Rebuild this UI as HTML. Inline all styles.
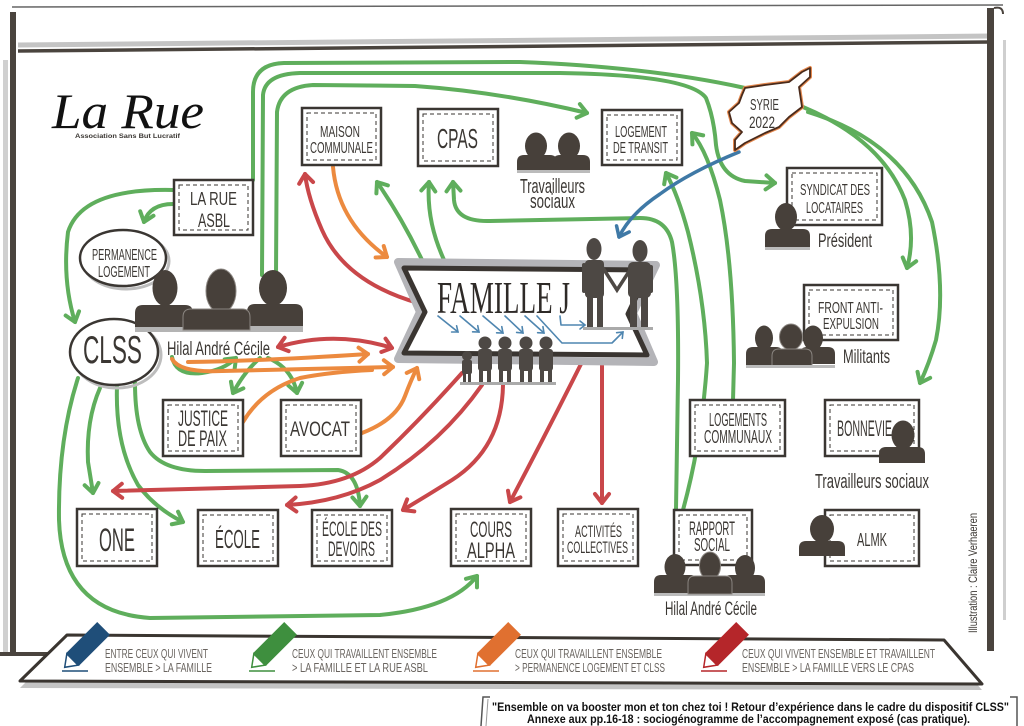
<!DOCTYPE html>
<html><head><meta charset="utf-8"><style>
html,body{margin:0;padding:0;background:#fff;}
svg{display:block;}
.t{font-family:"Liberation Sans",sans-serif;fill:#3b3733;}
.g{fill:none;stroke:#5fae5c;stroke-width:4;stroke-linecap:round;stroke-linejoin:round;}
.r{fill:none;stroke:#c9474a;stroke-width:4;stroke-linecap:round;stroke-linejoin:round;}
.o{fill:none;stroke:#ec8a3f;stroke-width:4;stroke-linecap:round;stroke-linejoin:round;}
.b{fill:none;stroke:#3f79a6;stroke-width:3.5;stroke-linecap:round;stroke-linejoin:round;}
.bs{fill:none;stroke:#4f86b0;stroke-width:1.6;stroke-linecap:round;stroke-linejoin:round;}
.bx{fill:#fff;stroke:#3a3632;stroke-width:2.5;}
.bd{fill:none;stroke:#3a3632;stroke-width:1;stroke-dasharray:4 3;}
.p{fill:#47403a;}
.k{fill:#4d4844;}
.lg{font-family:"Liberation Sans",sans-serif;fill:#6a6560;font-size:13px;}
</style></head><body>
<svg width="1024" height="726" viewBox="0 0 1024 726" xmlns="http://www.w3.org/2000/svg">
<defs>
<marker id="mg" viewBox="-12 -12 24 24" markerWidth="24" markerHeight="24" refX="0" refY="0" orient="auto-start-reverse" markerUnits="userSpaceOnUse"><path d="M-9,-7 L0,0 L-9,7" fill="none" stroke="#5fae5c" stroke-width="4" stroke-linecap="round" stroke-linejoin="round"/></marker>
<marker id="mr" viewBox="-12 -12 24 24" markerWidth="24" markerHeight="24" refX="0" refY="0" orient="auto-start-reverse" markerUnits="userSpaceOnUse"><path d="M-9,-7 L0,0 L-9,7" fill="none" stroke="#c9474a" stroke-width="4" stroke-linecap="round" stroke-linejoin="round"/></marker>
<marker id="mo" viewBox="-12 -12 24 24" markerWidth="24" markerHeight="24" refX="0" refY="0" orient="auto-start-reverse" markerUnits="userSpaceOnUse"><path d="M-9,-7 L0,0 L-9,7" fill="none" stroke="#ec8a3f" stroke-width="4" stroke-linecap="round" stroke-linejoin="round"/></marker>
<marker id="mb" viewBox="-12 -12 24 24" markerWidth="24" markerHeight="24" refX="0" refY="0" orient="auto-start-reverse" markerUnits="userSpaceOnUse"><path d="M-9,-7 L0,0 L-9,7" fill="none" stroke="#3f79a6" stroke-width="3.5" stroke-linecap="round" stroke-linejoin="round"/></marker>
<marker id="mbs" viewBox="-8 -8 16 16" markerWidth="16" markerHeight="16" refX="0" refY="0" orient="auto" markerUnits="userSpaceOnUse"><path d="M-5,-4 L0,0 L-5,4" fill="none" stroke="#4f86b0" stroke-width="1.6" stroke-linecap="round"/></marker>
</defs>

<!-- board frame -->
<line x1="12" y1="7" x2="1003" y2="5" stroke="#666" stroke-width="1.5"/>
<path d="M18 45 L 992 36" stroke="#c4c4c4" stroke-width="5" fill="none"/>
<path d="M18 51 L 990 42" stroke="#4a443e" stroke-width="3.5" fill="none"/>
<rect x="3" y="60" width="5" height="596" fill="#d0d0d0"/>
<rect x="10" y="12" width="6" height="644" fill="#4a443e"/>
<rect x="0" y="652" width="60" height="4" fill="#4a443e"/>
<rect x="987" y="8" width="7" height="643" fill="#4a443e"/>
<rect x="1003" y="40" width="3" height="580" fill="#cfcfcf"/>
<path d="M994 8 Q1003 6 1003 14" stroke="#4a443e" stroke-width="2" fill="none"/>

<!-- logo -->
<text x="52" y="128" font-family="Liberation Serif,serif" font-style="italic" font-size="50" fill="#111" textLength="152" lengthAdjust="spacingAndGlyphs">La Rue</text>
<text x="75" y="138" class="t" font-size="6.5" font-weight="bold" fill="#222" textLength="105" lengthAdjust="spacingAndGlyphs">Association Sans But Lucratif</text>

<!-- green connectors -->
<path class="g" d="M253 180 L253 92 Q253 64 284 63 L520 62 Q650 67 745 88"/>
<path class="g" d="M262 275 L263 95 Q265 74 300 73 L560 73 Q690 75 706 98 Q714 118 716 145 Q720 176 745 181 L775 183" marker-end="url(#mg)"/>
<path class="g" d="M276 275 L277 112 Q280 87 313 85 L415 86 Q500 92 587 113" marker-end="url(#mg)"/>
<path class="g" d="M173 190 Q82 188 68 232 Q62 280 75 322" marker-end="url(#mg)"/>
<path class="g" d="M173 204 Q150 204 144 222" marker-end="url(#mg)"/>
<path class="g" d="M78 378 Q58 440 59 520 Q62 612 150 618 L380 615 Q452 608 477 576" marker-end="url(#mg)"/>
<path class="g" d="M100 388 Q86 420 88 462 L93 493" marker-end="url(#mg)"/>
<path class="g" d="M117 386 Q115 445 138 485 Q155 508 183 522" marker-end="url(#mg)"/>
<path class="g" d="M135 383 Q135 430 150 452 Q165 471 205 471 L338 470 Q358 473 360 506" marker-end="url(#mg)"/>
<path class="g" d="M172 357 Q176 376 202 373 Q224 370 236 358" marker-end="url(#mg)"/>
<path class="g" d="M260 358 Q244 372 233 393" marker-end="url(#mg)"/>
<path class="g" d="M268 358 Q292 368 297 393" marker-end="url(#mg)"/>
<path class="g" d="M423 262 Q402 218 377 182" marker-end="url(#mg)"/>
<path class="g" d="M445 262 Q426 222 429 182" marker-end="url(#mg)"/>
<path class="g" d="M676 510 L678 380 Q679 280 672 242 Q666 218 640 218 L490 221 Q456 222 454 200 L453 182" marker-end="url(#mg)"/>
<path class="g" d="M683 510 Q702 440 707 363 Q705 300 688 232 Q678 195 666 173" marker-end="url(#mg)"/>
<path class="g" d="M733 400 L734 363 Q733 262 720 200 Q708 152 692 133" marker-end="url(#mg)"/>
<path class="g" d="M803 107 Q882 140 905 200 Q916 236 907 268" marker-end="url(#mg)"/>
<path class="g" d="M808 112 Q905 142 932 222 Q946 290 936 340 Q929 364 920 383" marker-end="url(#mg)"/>

<!-- red connectors -->
<path class="r" d="M418 303 Q345 282 322 230 Q308 198 305 174" marker-end="url(#mr)"/>
<path class="r" d="M278 347 Q335 330 392 348" marker-start="url(#mr)" marker-end="url(#mr)"/>
<path class="r" d="M462 373 Q420 420 380 458 Q350 484 300 486 L113 491" marker-end="url(#mr)"/>
<path class="r" d="M482 385 Q442 442 380 480 Q340 502 287 505" marker-end="url(#mr)"/>
<path class="r" d="M503 385 Q502 448 452 480 Q428 495 403 510" marker-end="url(#mr)"/>
<path class="r" d="M582 362 Q548 430 510 502" marker-end="url(#mr)"/>
<path class="r" d="M602 362 L602 503" marker-end="url(#mr)"/>

<!-- orange connectors -->
<path class="o" d="M333 167 Q338 222 387 257" marker-end="url(#mo)"/>
<path class="o" d="M188 362 Q262 361 368 354" marker-end="url(#mo)"/>
<path class="o" d="M172 359 Q180 373 222 371 L393 367" marker-end="url(#mo)"/>
<path class="o" d="M243 422 Q262 390 300 378 Q330 372 372 370"/>
<path class="o" d="M362 433 Q396 420 405 396 Q411 380 417 368" marker-end="url(#mo)"/>

<!-- blue connector -->
<path class="b" d="M739 152 Q690 172 660 194 Q630 214 619 237" marker-end="url(#mb)"/>

<!-- boxes -->
<g>
<rect class="bx" x="302" y="108" width="79" height="57"/><rect class="bd" x="307" y="113" width="69" height="47"/>
<rect class="bx" x="418" y="109" width="80" height="57"/><rect class="bd" x="423" y="114" width="70" height="47"/>
<rect class="bx" x="602" y="110" width="80" height="55"/><rect class="bd" x="607" y="115" width="70" height="45"/>
<rect class="bx" x="174" y="180" width="79" height="55"/><rect class="bd" x="179" y="185" width="69" height="45"/>
<rect class="bx" x="787" y="168" width="95" height="57"/><rect class="bd" x="792" y="173" width="85" height="47"/>
<rect class="bx" x="804" y="285" width="94" height="55"/><rect class="bd" x="809" y="290" width="84" height="45"/>
<rect class="bx" x="163" y="400" width="80" height="56"/><rect class="bd" x="168" y="405" width="70" height="46"/>
<rect class="bx" x="281" y="400" width="80" height="56"/><rect class="bd" x="286" y="405" width="70" height="46"/>
<rect class="bx" x="690" y="400" width="95" height="56"/><rect class="bd" x="695" y="405" width="85" height="46"/>
<rect class="bx" x="825" y="400" width="94" height="56"/><rect class="bd" x="830" y="405" width="84" height="46"/>
<rect class="bx" x="77" y="509" width="80" height="57"/><rect class="bd" x="82" y="514" width="70" height="47"/>
<rect class="bx" x="198" y="510" width="80" height="56"/><rect class="bd" x="203" y="515" width="70" height="46"/>
<rect class="bx" x="312" y="510" width="80" height="56"/><rect class="bd" x="317" y="515" width="70" height="46"/>
<rect class="bx" x="451" y="509" width="80" height="57"/><rect class="bd" x="456" y="514" width="70" height="47"/>
<rect class="bx" x="558" y="509" width="80" height="57"/><rect class="bd" x="563" y="514" width="70" height="47"/>
<rect class="bx" x="674" y="510" width="78" height="55"/><rect class="bd" x="679" y="515" width="68" height="45"/>
<rect class="bx" x="825" y="510" width="94" height="56"/><rect class="bd" x="830" y="515" width="84" height="46"/>
</g>

<!-- ellipses -->
<ellipse cx="126" cy="261" rx="43" ry="28" fill="none" stroke="#bdbdbd" stroke-width="3"/>
<ellipse cx="123" cy="258" rx="43" ry="28" fill="#fff" stroke="#3a3632" stroke-width="2.5"/>
<ellipse cx="117" cy="355" rx="44" ry="33" fill="none" stroke="#bdbdbd" stroke-width="3"/>
<ellipse cx="114" cy="352" rx="44" ry="33" fill="#fff" stroke="#3a3632" stroke-width="2.5"/>

<!-- Syrie -->
<polygon points="745,88 765,85 789,82 802,72 810,68 810,77 799,87 802,107 789,117 779,127 765,133 745,143 735,150 735,140 742,132 732,123 729,112 739,103 742,95" fill="#fff" stroke="#e4884e" stroke-width="4" stroke-linejoin="round"/>
<polygon points="745,88 765,85 789,82 802,72 810,68 810,77 799,87 802,107 789,117 779,127 765,133 745,143 735,150 735,140 742,132 732,123 729,112 739,103 742,95" fill="#fff" stroke="#4a2a1a" stroke-width="1.8" stroke-linejoin="round"/>

<!-- persons: left group -->
<rect x="135" y="325" width="168" height="7" fill="#b4b4b4"/>
<g class="p">
<ellipse cx="165" cy="288" rx="12.5" ry="18"/><path d="M135 327 L135 313 Q135 305 143 305 L185 305 Q193 305 193 313 L193 327 Z"/>
<ellipse cx="273" cy="288" rx="14" ry="18"/><path d="M247 326 L247 312 Q247 304 255 304 L295 304 Q303 304 303 312 L303 326 Z"/>
<ellipse cx="221" cy="291" rx="15" ry="22" stroke="#8a8580" stroke-width="1"/><path d="M183 330 L183 317 Q183 309 191 309 L242 309 Q250 309 250 317 L250 330 Z" stroke="#8a8580" stroke-width="1"/>
</g>
<!-- travailleurs top -->
<g class="p">
<ellipse cx="536" cy="146" rx="11" ry="13.5"/><path d="M517 170 L517 162 Q517 155 524 155 L550 155 Q557 155 557 162 L557 170 Z"/>
<ellipse cx="569" cy="146" rx="11" ry="13.5"/><path d="M553 170 L553 162 Q553 155 560 155 L583 155 Q590 155 590 162 L590 170 Z"/>
</g>
<rect x="517" y="170" width="73" height="3" fill="#bbb"/>
<!-- president -->
<g class="p"><ellipse cx="786" cy="217" rx="11" ry="14"/><path d="M765 247 L765 236 Q765 229 772 229 L803 229 Q810 229 810 236 L810 247 Z"/></g>
<rect x="765" y="247" width="45" height="3" fill="#bbb"/>
<!-- militants -->
<g class="p">
<ellipse cx="764" cy="338" rx="9" ry="12.5"/><path d="M746 365 L746 354 Q746 347 753 347 L776 347 Q783 347 783 354 L783 365 Z"/>
<ellipse cx="813" cy="338" rx="10" ry="12.5"/><path d="M800 364 L800 354 Q800 347 807 347 L828 347 Q835 347 835 354 L835 364 Z"/>
<ellipse cx="791" cy="337" rx="11.5" ry="13" stroke="#8a8580" stroke-width="1"/><path d="M772 366 L772 356 Q772 349 779 349 L805 349 Q812 349 812 356 L812 366 Z" stroke="#8a8580" stroke-width="1"/>
</g>
<rect x="746" y="365" width="89" height="3" fill="#bbb"/>
<!-- bonnevie person -->
<g class="p"><ellipse cx="903" cy="435" rx="11.5" ry="14.5"/><path d="M879 463 L879 454 Q879 447 886 447 L918 447 Q925 447 925 454 L925 463 Z"/></g>
<!-- almk person -->
<g class="p"><ellipse cx="822" cy="529" rx="12" ry="14"/><path d="M799 556 L799 548 Q799 541 806 541 L838 541 Q845 541 845 548 L845 556 Z"/></g>
<!-- rapport persons -->
<rect x="654" y="592" width="111" height="4" fill="#bbb"/>
<g class="p">
<ellipse cx="675" cy="567" rx="10.5" ry="13"/><path d="M654 593 L654 582 Q654 575 661 575 L690 575 Q697 575 697 582 L697 593 Z"/>
<ellipse cx="745" cy="568" rx="10" ry="13"/><path d="M724 593 L724 582 Q724 575 731 575 L758 575 Q765 575 765 582 L765 593 Z"/>
<ellipse cx="710" cy="566" rx="10.5" ry="14" stroke="#8a8580" stroke-width="1"/><path d="M688 594 L688 583 Q688 576 695 576 L725 576 Q732 576 732 583 L732 594 Z" stroke="#8a8580" stroke-width="1"/>
</g>

<!-- FAMILLE J banner -->
<polygon points="398,262 656,265 633,313 654,362 398,359 420,312" fill="#fff" stroke="#b4b4b8" stroke-width="8" stroke-linejoin="round"/>
<polygon points="404,268 649,270 628,314 647,355 404,353 425,312" fill="#fff" stroke="#3a3531" stroke-width="5" stroke-linejoin="round"/>
<text x="437" y="313" font-family="Liberation Serif,serif" font-size="46" fill="#2e2a27" textLength="133" lengthAdjust="spacingAndGlyphs">FAMILLE J</text>
<!-- small blue arrows -->
<path class="bs" d="M438 316 L458 332" marker-end="url(#mbs)"/>
<path class="bs" d="M460 316 L479 332" marker-end="url(#mbs)"/>
<path class="bs" d="M483 316 L503 333" marker-end="url(#mbs)"/>
<path class="bs" d="M505 316 L523 333" marker-end="url(#mbs)"/>
<path class="bs" d="M525 316 L544 333" marker-end="url(#mbs)"/>
<path class="bs" d="M560 316 L561 325 L585 325" marker-end="url(#mbs)"/>
<path class="bs" d="M537 316 L562 343 L612 343 L623 332" marker-end="url(#mbs)"/>
<!-- adults -->
<g class="k">
<ellipse cx="594" cy="249" rx="7.5" ry="11"/>
<rect x="585" y="260" width="19" height="38" rx="4"/>
<rect x="587" y="296" width="6" height="32"/><rect x="597" y="296" width="6" height="32"/>
<rect x="582" y="263" width="4" height="30" rx="2"/>
<ellipse cx="640" cy="251" rx="7.5" ry="11"/>
<rect x="628" y="262" width="23" height="36" rx="5"/>
<rect x="630" y="296" width="7" height="31"/><rect x="641" y="296" width="7" height="31"/>
<rect x="649" y="265" width="4" height="28" rx="2"/>
</g>
<path d="M603 268 L617 290 L630 270" stroke="#4d4844" stroke-width="3.5" fill="none" stroke-linecap="round"/>
<rect x="583" y="327" width="70" height="3" fill="#aaa"/>
<!-- kids -->
<g class="k">
<circle cx="467" cy="356" r="5"/><rect x="462" y="360" width="10" height="14" rx="2"/><rect x="463" y="372" width="3" height="11"/><rect x="468" y="372" width="3" height="11"/>
<circle cx="485" cy="343" r="6.5"/><rect x="478" y="349" width="14" height="22" rx="3"/><rect x="479" y="369" width="4" height="14"/><rect x="487" y="369" width="4" height="14"/>
<circle cx="505" cy="343" r="6.5"/><rect x="498" y="349" width="14" height="22" rx="3"/><rect x="499" y="369" width="4" height="14"/><rect x="507" y="369" width="4" height="14"/>
<circle cx="526" cy="343" r="6.5"/><rect x="519" y="349" width="14" height="22" rx="3"/><rect x="520" y="369" width="4" height="14"/><rect x="528" y="369" width="4" height="14"/>
<circle cx="546" cy="343" r="6.5"/><rect x="539" y="349" width="14" height="22" rx="3"/><rect x="540" y="369" width="4" height="14"/><rect x="548" y="369" width="4" height="14"/>
</g>
<rect x="460" y="382" width="96" height="3" fill="#aaa"/>

<!-- texts -->
<g class="t">
<text x="320" y="137" font-size="16" textLength="40" lengthAdjust="spacingAndGlyphs">MAISON</text>
<text x="310" y="153" font-size="16" textLength="63" lengthAdjust="spacingAndGlyphs">COMMUNALE</text>
<text x="437" y="148" font-size="28" textLength="41" lengthAdjust="spacingAndGlyphs">CPAS</text>
<text x="615" y="137" font-size="16" textLength="52" lengthAdjust="spacingAndGlyphs">LOGEMENT</text>
<text x="613" y="153" font-size="16" textLength="55" lengthAdjust="spacingAndGlyphs">DE TRANSIT</text>
<text x="750" y="110" font-size="16" textLength="29" lengthAdjust="spacingAndGlyphs">SYRIE</text>
<text x="749" y="128" font-size="17" textLength="26" lengthAdjust="spacingAndGlyphs">2022</text>
<text x="190" y="205" font-size="18" textLength="47" lengthAdjust="spacingAndGlyphs">LA RUE</text>
<text x="198" y="227" font-size="19" textLength="32" lengthAdjust="spacingAndGlyphs">ASBL</text>
<text x="92" y="260" font-size="16" textLength="65" lengthAdjust="spacingAndGlyphs">PERMANENCE</text>
<text x="98" y="277" font-size="16" textLength="52" lengthAdjust="spacingAndGlyphs">LOGEMENT</text>
<text x="83" y="363" font-size="39" textLength="59" lengthAdjust="spacingAndGlyphs">CLSS</text>
<text x="167" y="355" font-size="19" textLength="103" lengthAdjust="spacingAndGlyphs">Hilal André Cécile</text>
<text x="800" y="195" font-size="16" textLength="70" lengthAdjust="spacingAndGlyphs">SYNDICAT DES</text>
<text x="806" y="213" font-size="16" textLength="57" lengthAdjust="spacingAndGlyphs">LOCATAIRES</text>
<text x="818" y="247" font-size="19" textLength="54" lengthAdjust="spacingAndGlyphs">Président</text>
<text x="818" y="313" font-size="15.5" textLength="65" lengthAdjust="spacingAndGlyphs">FRONT ANTI-</text>
<text x="823" y="329" font-size="15.5" textLength="56" lengthAdjust="spacingAndGlyphs">EXPULSION</text>
<text x="843" y="363" font-size="19" textLength="47" lengthAdjust="spacingAndGlyphs">Militants</text>
<text x="520" y="193" font-size="20" textLength="65" lengthAdjust="spacingAndGlyphs">Travailleurs</text>
<text x="530" y="208" font-size="20" textLength="45" lengthAdjust="spacingAndGlyphs">sociaux</text>
<text x="178" y="426" font-size="22" textLength="50" lengthAdjust="spacingAndGlyphs">JUSTICE</text>
<text x="178" y="446" font-size="22" textLength="49" lengthAdjust="spacingAndGlyphs">DE PAIX</text>
<text x="290" y="436" font-size="21" textLength="60" lengthAdjust="spacingAndGlyphs">AVOCAT</text>
<text x="709" y="426" font-size="18" textLength="58" lengthAdjust="spacingAndGlyphs">LOGEMENTS</text>
<text x="704" y="443" font-size="18" textLength="68" lengthAdjust="spacingAndGlyphs">COMMUNAUX</text>
<text x="837" y="436" font-size="22" textLength="55" lengthAdjust="spacingAndGlyphs">BONNEVIE</text>
<text x="815" y="488" font-size="20" textLength="114" lengthAdjust="spacingAndGlyphs">Travailleurs sociaux</text>
<text x="99" y="551" font-size="32" textLength="36" lengthAdjust="spacingAndGlyphs">ONE</text>
<text x="215" y="548" font-size="26" textLength="45" lengthAdjust="spacingAndGlyphs">ÉCOLE</text>
<text x="322" y="536" font-size="21" textLength="60" lengthAdjust="spacingAndGlyphs">ÉCOLE DES</text>
<text x="328" y="556" font-size="21" textLength="47" lengthAdjust="spacingAndGlyphs">DEVOIRS</text>
<text x="470" y="537" font-size="22" textLength="42" lengthAdjust="spacingAndGlyphs">COURS</text>
<text x="467" y="558" font-size="22" textLength="48" lengthAdjust="spacingAndGlyphs">ALPHA</text>
<text x="575" y="537" font-size="16.5" textLength="47" lengthAdjust="spacingAndGlyphs">ACTIVITÉS</text>
<text x="567" y="553" font-size="16.5" textLength="61" lengthAdjust="spacingAndGlyphs">COLLECTIVES</text>
<text x="689" y="535" font-size="19" textLength="46" lengthAdjust="spacingAndGlyphs">RAPPORT</text>
<text x="694" y="551" font-size="18" textLength="36" lengthAdjust="spacingAndGlyphs">SOCIAL</text>
<text x="857" y="546" font-size="18" textLength="30" lengthAdjust="spacingAndGlyphs">ALMK</text>
<text x="665" y="615" font-size="19" textLength="92" lengthAdjust="spacingAndGlyphs">Hilal André Cécile</text>
<text transform="translate(977,633) rotate(-90)" font-size="12" textLength="120" lengthAdjust="spacingAndGlyphs">Illustration : Claire Verhaeren</text>
</g>

<!-- legend -->
<polygon points="67,641 944,646 982,690 20,688" fill="#c4c4c4"/>
<polygon points="67,635 944,640 982,684 20,681" fill="#fff" stroke="#3a3530" stroke-width="3" stroke-linejoin="round"/>
<!-- pencils -->
<g transform="translate(64,668) rotate(-45)"><rect x="12" y="-9" width="44" height="18" fill="#1f4e79"/><polygon points="1,0 12,-8 12,8" fill="#fff" stroke="#1f4e79" stroke-width="1.5"/></g>
<line x1="62" y1="671" x2="88" y2="671" stroke="#1f4e79" stroke-width="1.5"/>
<g transform="translate(251,668) rotate(-45)"><rect x="12" y="-9" width="44" height="18" fill="#3e8f3e"/><polygon points="1,0 12,-8 12,8" fill="#fff" stroke="#3e8f3e" stroke-width="1.5"/></g>
<line x1="249" y1="671" x2="275" y2="671" stroke="#3e8f3e" stroke-width="1.5"/>
<g transform="translate(475,668) rotate(-45)"><rect x="12" y="-9" width="44" height="18" fill="#e07030"/><polygon points="1,0 12,-8 12,8" fill="#fff" stroke="#e07030" stroke-width="1.5"/></g>
<line x1="473" y1="671" x2="499" y2="671" stroke="#e07030" stroke-width="1.5"/>
<g transform="translate(703,668) rotate(-45)"><rect x="12" y="-9" width="44" height="18" fill="#b5262a"/><polygon points="1,0 12,-8 12,8" fill="#fff" stroke="#b5262a" stroke-width="1.5"/></g>
<line x1="701" y1="671" x2="727" y2="671" stroke="#b5262a" stroke-width="1.5"/>
<text class="lg" x="105" y="658" textLength="103" lengthAdjust="spacingAndGlyphs">ENTRE CEUX QUI VIVENT</text>
<text class="lg" x="105" y="672" textLength="107" lengthAdjust="spacingAndGlyphs">ENSEMBLE &gt; LA FAMILLE</text>
<text class="lg" x="292" y="658" textLength="145" lengthAdjust="spacingAndGlyphs">CEUX QUI TRAVAILLENT ENSEMBLE</text>
<text class="lg" x="292" y="672" textLength="136" lengthAdjust="spacingAndGlyphs">&gt; LA FAMILLE ET LA RUE ASBL</text>
<text class="lg" x="515" y="658" textLength="147" lengthAdjust="spacingAndGlyphs">CEUX QUI TRAVAILLENT ENSEMBLE</text>
<text class="lg" x="515" y="672" textLength="150" lengthAdjust="spacingAndGlyphs">&gt; PERMANENCE LOGEMENT ET CLSS</text>
<text class="lg" x="742" y="658" textLength="193" lengthAdjust="spacingAndGlyphs">CEUX QUI VIVENT ENSEMBLE ET TRAVAILLENT</text>
<text class="lg" x="742" y="672" textLength="172" lengthAdjust="spacingAndGlyphs">ENSEMBLE &gt; LA FAMILLE VERS LE CPAS</text>

<!-- caption -->
<path d="M490 697 L483 697 L481 726" stroke="#555" stroke-width="1.5" fill="none"/>
<path d="M488 699 L486 726" stroke="#999" stroke-width="1" fill="none"/>
<path d="M1010 697 L1017 697 L1017 726" stroke="#555" stroke-width="1.5" fill="none"/>
<text x="492" y="711" font-family="Liberation Sans,sans-serif" font-weight="bold" font-size="11.5" fill="#111" textLength="517" lengthAdjust="spacingAndGlyphs">"Ensemble on va booster mon et ton chez toi ! Retour d’expérience dans le cadre du dispositif CLSS"</text>
<text x="527" y="723" font-family="Liberation Sans,sans-serif" font-weight="bold" font-size="11.5" fill="#111" textLength="443" lengthAdjust="spacingAndGlyphs">Annexe aux pp.16-18 : sociogénogramme de l’accompagnement exposé (cas pratique).</text>
</svg>
</body></html>
